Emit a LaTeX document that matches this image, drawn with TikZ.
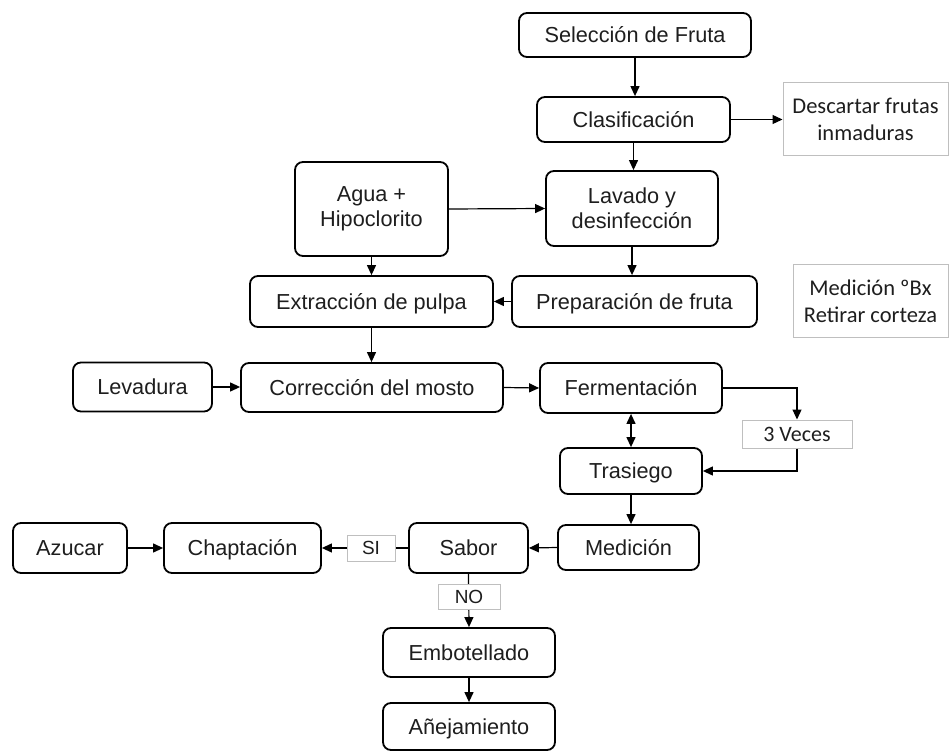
\documentclass[tikz,border=0pt]{standalone}
\usepackage{fontspec}
\setmainfont{Liberation Sans}
\newfontfamily\calibri{Carlito}
\usepackage{tikz}
\usetikzlibrary{arrows.meta,positioning}
\definecolor{notagris}{RGB}{191,191,191}
\definecolor{textonegro}{RGB}{30,30,30}

\begin{document}
\begin{tikzpicture}[
    x=1pt, y=-1pt,
    caja/.style={draw, line width=1.8pt, rounded corners=8pt, fill=white, align=center, inner sep=0pt, text=textonegro, font=\fontsize{21.7}{25}\selectfont},
    paso/.style={caja, text height=15.6pt, text depth=0pt},
    nota/.style={draw=notagris, line width=1pt, fill=white, align=center, inner sep=0pt, text=textonegro, font=\calibri\fontsize{22.5}{27}\selectfont},
    marca/.style={draw=notagris, line width=1pt, fill=white, align=center, inner sep=0pt, text=textonegro, text height=13.6pt, text depth=0pt, font=\fontsize{19}{22}\selectfont},
    flecha/.style={-{Triangle[length=10pt,width=9pt]}, line width=1.2pt},
]
\useasboundingbox (0,0) rectangle (950,751);

% etapas de preparacion
\node[paso, minimum width=232pt, minimum height=44pt] (sel) at (635,35) {Selección de Fruta};
\node[paso, minimum width=193pt, minimum height=45pt] (clas) at (633.5,119.5) {Clasificación};
\node[nota, minimum width=165pt, minimum height=73pt] (desc) at (865.5,119.5) {Descartar frutas\\inmaduras};
\node[caja, minimum width=172pt, minimum height=75pt] (lav) at (632,208.5) {Lavado y\\desinfección};
\node[caja, minimum width=153pt, minimum height=94pt] (agua) at (371.5,209) {Agua +\\Hipoclorito};
\node[paso, minimum width=243pt, minimum height=51pt] (ext) at (371.5,301.5) {Extracción de pulpa};
\node[paso, minimum width=245pt, minimum height=51pt] (prep) at (634.5,301.5) {Preparación de fruta};
\node[nota, minimum width=155pt, minimum height=72pt] (medbx) at (870.5,301) {Medición ºBx\\Retirar corteza};

% fermentacion
\node[paso, minimum width=139pt, minimum height=49pt] (lev) at (142.5,387) {Levadura};
\node[paso, minimum width=262pt, minimum height=49pt] (corr) at (372,387.5) {Corrección del mosto};
\node[paso, minimum width=182pt, minimum height=50pt] (ferm) at (631,388) {Fermentación};
\node[nota, minimum width=110pt, minimum height=28pt, text height=14.2pt, text depth=0pt, font=\calibri\fontsize{22}{26}\selectfont] (veces) at (797,434) {3 Veces};
\node[paso, minimum width=142pt, minimum height=46pt] (tras) at (631,471) {Trasiego};

% control y final
\node[paso, minimum width=141pt, minimum height=45pt] (med) at (628.5,547.5) {Medición};
\node[paso, minimum width=119pt, minimum height=50pt] (sabor) at (468.5,548) {Sabor};
\node[paso, minimum width=157pt, minimum height=50pt] (chap) at (242.5,548) {Chaptación};
\node[paso, minimum width=114pt, minimum height=50pt] (azu) at (70,548) {Azucar};
\node[paso, minimum width=172pt, minimum height=49pt] (emb) at (469,652.5) {Embotellado};
\node[paso, minimum width=172pt, minimum height=47pt] (ane) at (469,726.5) {Añejamiento};

\draw[flecha] (sel.south) -- (sel.south |- clas.north);
\draw[flecha] (clas.east) -- (desc.west);
\draw[flecha] (clas.south) -- (clas.south |- lav.north);
\draw[flecha] (agua.east) -- (lav.west);
\draw[flecha] (agua.south) -- (ext.north);
\draw[flecha] (lav.south) -- (lav.south |- prep.north);
\draw[flecha] (prep.west) -- (ext.east);
\draw[flecha] (ext.south) -- (ext.south |- corr.north);
\draw[flecha] (lev.east) -- (lev.east -| corr.west);
\draw[flecha] (corr.east) -- (ferm.west);
\draw[{Triangle[length=10pt,width=9pt]}-{Triangle[length=10pt,width=9pt]}, line width=1.2pt] (ferm.south) -- (tras.north);
\draw[flecha] (ferm.east) -| (veces.north);
\draw[flecha] (veces.south) |- (tras.east);
\draw[flecha] (tras.south) -- (tras.south |- med.north);
\draw[flecha] (med.west) -- (sabor.east);
\draw[flecha] (sabor.west) -- (chap.east);
\draw[flecha] (azu.east) -- (chap.west);
\draw[flecha] (sabor.south) -- (emb.north);
\draw[flecha] (emb.south) -- (ane.north);

% etiquetas de decision
\node[marca, minimum width=48pt, minimum height=26pt] (si) at (371,548) {SI};
\node[marca, minimum width=62pt, minimum height=25pt] (no) at (469,596.5) {NO};
\end{tikzpicture}
\end{document}
